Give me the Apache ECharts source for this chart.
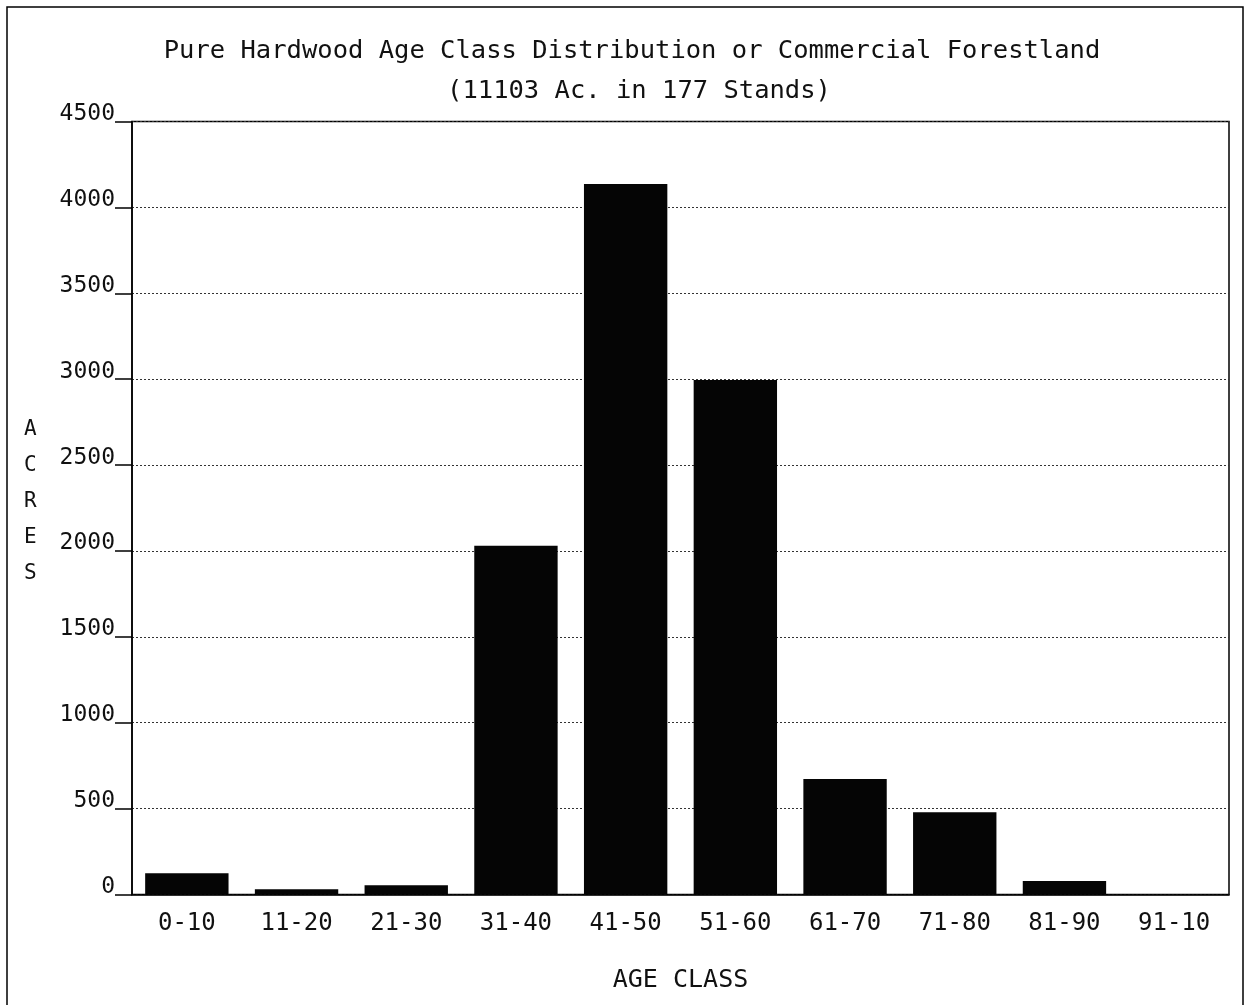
<!DOCTYPE html>
<html>
<head>
<meta charset="utf-8">
<script src="https://cdn.jsdelivr.net/npm/echarts@6/dist/echarts.min.js"></script>
<style>
  html, body { margin: 0; padding: 0; background: #fff; }
  #chart { width: 1249px; height: 1005px; }
</style>
</head>
<body>
<div id="chart"></div>
<script>
// ---- data ----
const titleLine1 = "Pure Hardwood Age Class Distribution or Commercial Forestland";
const titleLine2 = "(11103 Ac. in 177 Stands)";
const ageClasses = ["0-10", "11-20", "21-30", "31-40", "41-50", "51-60", "61-70", "71-80", "81-90", "91-10"];
const acres = [123, 30, 54, 2030, 4136, 2995, 672, 479, 79, 0];
const yMin = 0, yMax = 4500, yStep = 500;
const xAxisTitle = "AGE CLASS";
const yAxisTitle = "ACRES";

const FONT = "'DejaVu Sans Mono', 'Liberation Mono', monospace";
const INK = "#111";

const chart = echarts.init(document.getElementById('chart'), null, { renderer: 'canvas' });

chart.setOption({
  animation: false,
  backgroundColor: '#fff',
  title: [
    { text: titleLine1, left: 627, top: 33, textAlign: 'center',
      textStyle: { fontFamily: FONT, fontSize: 25.5, fontWeight: 'normal', color: INK } },
    { text: titleLine2, left: 634, top: 73, textAlign: 'center',
      textStyle: { fontFamily: FONT, fontSize: 25.5, fontWeight: 'normal', color: INK } }
  ],
  grid: {
    left: 132, right: 1249 - 1229, top: 121.5, bottom: 1005 - 894.5,
    show: true, borderColor: '#000', borderWidth: 1.5, backgroundColor: 'transparent'
  },
  xAxis: {
    type: 'category',
    data: ageClasses,
    boundaryGap: true,
    name: xAxisTitle,
    nameLocation: 'middle',
    nameGap: 73,
    nameTextStyle: { fontFamily: FONT, fontSize: 25, color: INK, verticalAlign: 'top' },
    axisLine: { show: true, lineStyle: { color: '#000', width: 1.5 } },
    axisTick: { show: false },
    axisLabel: { fontFamily: FONT, fontSize: 24, color: INK, margin: 17 },
    splitLine: { show: false }
  },
  yAxis: {
    type: 'value',
    min: yMin, max: yMax, interval: yStep,
    axisLine: { show: true, lineStyle: { color: '#000', width: 1.5 } },
    axisTick: { show: true, length: 17, lineStyle: { color: '#000', width: 1.5 } },
    axisLabel: { fontFamily: FONT, fontSize: 23, color: INK, margin: 17,
      verticalAlign: 'bottom', lineHeight: 15,
      formatter: function (v) { return String(v); } },
    splitLine: { show: true, lineStyle: { color: '#333', width: 1, type: [2, 2] } }
  },
  series: [{
    type: 'bar',
    data: acres,
    barWidth: '76%',
    itemStyle: { color: '#050505' }
  }],
  graphic: [
    { type: 'rect', shape: { x: 7, y: 7, width: 1236, height: 1010 },
      style: { fill: 'none', stroke: '#000', lineWidth: 1.5 }, z: 100 },
    { type: 'text', left: 24, top: 412,
      style: { text: yAxisTitle.split('').join('\n'), font: "21px " + FONT,
        fill: INK, lineHeight: 36, align: 'center' } }
  ]
});
</script>
</body>
</html>
